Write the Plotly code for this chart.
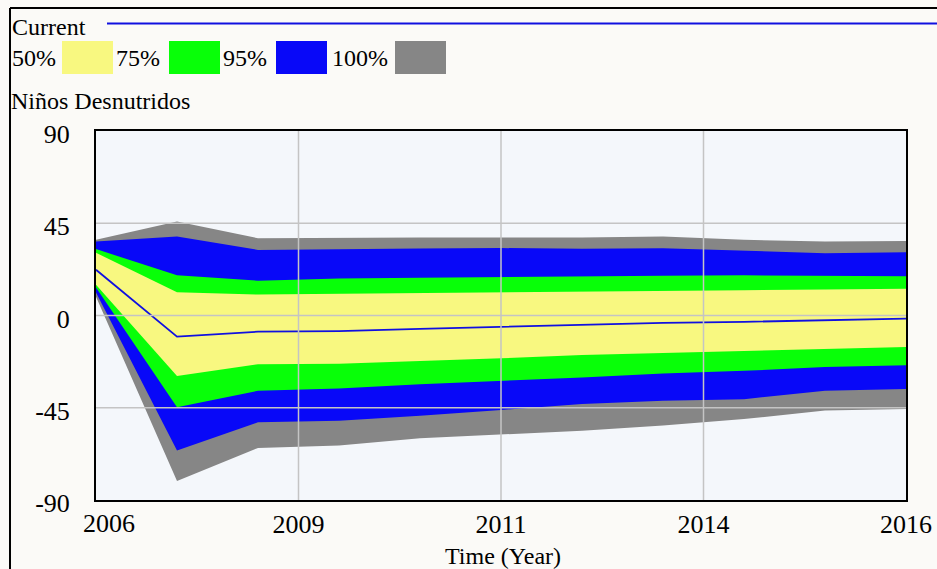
import plotly.graph_objects as go

# Sensitivity run for "Niños Desnutridos", 2006-2016
years = [2006, 2007, 2008, 2009, 2010, 2011, 2012, 2013, 2014, 2015, 2016]

current = [22.3, -10.3, -7.9, -7.6, -6.5, -5.5, -4.5, -3.6, -3.1, -2.3, -1.5]

p50_hi = [30.6, 11.3, 10.2, 10.5, 10.9, 11.3, 11.5, 11.8, 12.3, 12.7, 13.1]
p50_lo = [15.0, -29.5, -23.8, -23.5, -22.2, -20.9, -19.3, -18.1, -17.3, -16.3, -15.4]

p75_hi = [32.4, 19.6, 17.0, 18.0, 18.4, 18.8, 19.0, 19.4, 19.6, 19.3, 19.1]
p75_lo = [13.6, -44.8, -36.7, -35.6, -33.5, -31.9, -30.2, -28.3, -27.0, -25.1, -24.3]

p95_hi = [36.1, 38.5, 32.0, 32.5, 32.7, 32.9, 32.5, 32.8, 31.6, 30.4, 30.9]
p95_lo = [11.2, -65.9, -52.1, -51.3, -48.9, -46.1, -43.2, -41.6, -40.8, -36.7, -35.9]

p100_hi = [36.9, 45.8, 37.7, 38.0, 38.0, 38.0, 38.0, 38.5, 36.9, 36.1, 36.4]
p100_lo = [9.2, -80.7, -64.6, -63.4, -59.9, -58.1, -56.2, -53.7, -50.5, -46.4, -45.6]

band_labels = ["50%", "75%", "95%", "100%"]
band_colors = ["#f8f880", "#08ff08", "#0808f8", "#868686"]

x_tickvals = [2006, 2008.5, 2011, 2013.5, 2016]
x_ticktext = ["", "2009", "2011", "2014", "2016"]
y_tickvals = [-90, -45, 0, 45, 90]
y_ticktext = ["-90", "-45", "0", "45", "90"]

FONT = "Liberation Serif"
TICK_SIZE = 26
GRID = "#c4c4c4"
W, H = 937, 569
ML, MR, MT, MB = 96, 31, 131, 69


def px(x):
    return (x - ML) / (W - ML - MR)


def py(y):
    return (H - MB - y) / (H - MT - MB)


fig = go.Figure()

bands = [
    (p100_hi, p100_lo, band_colors[3]),
    (p95_hi, p95_lo, band_colors[2]),
    (p75_hi, p75_lo, band_colors[1]),
    (p50_hi, p50_lo, band_colors[0]),
]
for hi, lo, col in bands:
    fig.add_trace(go.Scatter(
        x=years + years[::-1],
        y=hi + lo[::-1],
        fill="toself",
        fillcolor=col,
        line=dict(width=0, color=col),
        mode="lines",
        hoverinfo="skip",
        showlegend=False,
    ))

fig.add_trace(go.Scatter(
    x=years, y=current, mode="lines",
    line=dict(color="#1010e0", width=1.8),
    showlegend=False, hoverinfo="skip",
))

shapes = []
annotations = []

# grid drawn over the bands
for v in x_tickvals[1:-1]:
    shapes.append(dict(type="line", xref="x", yref="paper", layer="above",
                       x0=v, x1=v, y0=0, y1=1, line=dict(color=GRID, width=1.5)))
for v in y_tickvals[1:-1]:
    shapes.append(dict(type="line", xref="paper", yref="y", layer="above",
                       x0=0, x1=1, y0=v, y1=v, line=dict(color=GRID, width=1.5)))

# outer frame (top and left edges)
shapes.append(dict(type="line", xref="paper", yref="paper",
                   x0=px(10), x1=px(W + 5), y0=py(8), y1=py(8),
                   line=dict(color="black", width=2)))
shapes.append(dict(type="line", xref="paper", yref="paper",
                   x0=px(10), x1=px(10), y0=py(8), y1=py(H + 5),
                   line=dict(color="black", width=2)))

# "Current" legend line
annotations.append(dict(text="Current", xref="paper", yref="paper",
                        x=px(10), y=py(27), xanchor="left", yanchor="middle",
                        showarrow=False, font=dict(family=FONT, size=24, color="black")))
shapes.append(dict(type="line", xref="paper", yref="paper",
                   x0=px(107), x1=px(W + 5), y0=py(23.5), y1=py(23.5),
                   line=dict(color="#1010e0", width=1.8)))

# band legend
text_x = [10, 114, 221, 330]
box_x = [62, 169, 276, 395]
for lab, col, tx, bx in zip(band_labels, band_colors, text_x, box_x):
    annotations.append(dict(text=lab, xref="paper", yref="paper",
                            x=px(tx), y=py(58), xanchor="left", yanchor="middle",
                            showarrow=False, font=dict(family=FONT, size=24, color="black")))
    shapes.append(dict(type="rect", xref="paper", yref="paper",
                       x0=px(bx), x1=px(bx + 51), y0=py(41), y1=py(74),
                       fillcolor=col, line=dict(width=0)))

annotations.append(dict(text="Niños Desnutridos", xref="paper", yref="paper",
                        x=px(9), y=py(101), xanchor="left", yanchor="middle",
                        showarrow=False, font=dict(family=FONT, size=24, color="black")))

# first x label sits right of the axis corner
annotations.append(dict(text="2006", xref="paper", yref="paper",
                        x=px(81), y=py(523), xanchor="left", yanchor="middle",
                        showarrow=False, font=dict(family=FONT, size=TICK_SIZE, color="black")))

annotations.append(dict(text="Time (Year)", xref="paper", yref="paper",
                        x=px(503), y=py(556), xanchor="center", yanchor="middle",
                        showarrow=False, font=dict(family=FONT, size=24, color="black")))

fig.update_layout(
    width=W, height=H,
    margin=dict(l=ML, r=MR, t=MT, b=MB, pad=0, autoexpand=False),
    paper_bgcolor="#fbfaf7",
    plot_bgcolor="#f4f7fb",
    font=dict(family=FONT, size=24, color="black"),
    shapes=shapes,
    annotations=annotations,
    showlegend=False,
)

fig.update_xaxes(
    range=[2006, 2016], tickvals=x_tickvals, ticktext=x_ticktext,
    showgrid=False,
    showline=True, linecolor="black", linewidth=2, mirror=True,
    ticks="", zeroline=False, ticklabelstandoff=0, automargin=False,
    layer="above traces",
    tickfont=dict(family=FONT, size=TICK_SIZE, color="black"),
)
fig.update_yaxes(
    range=[-90, 90], tickvals=y_tickvals, ticktext=y_ticktext,
    showgrid=False,
    showline=True, linecolor="black", linewidth=2, mirror=True,
    ticks="", zeroline=False, ticklabelstandoff=19, ticklabelshift=3,
    automargin=False, layer="above traces",
    tickfont=dict(family=FONT, size=TICK_SIZE, color="black"),
)

fig.write_html("out.html")
